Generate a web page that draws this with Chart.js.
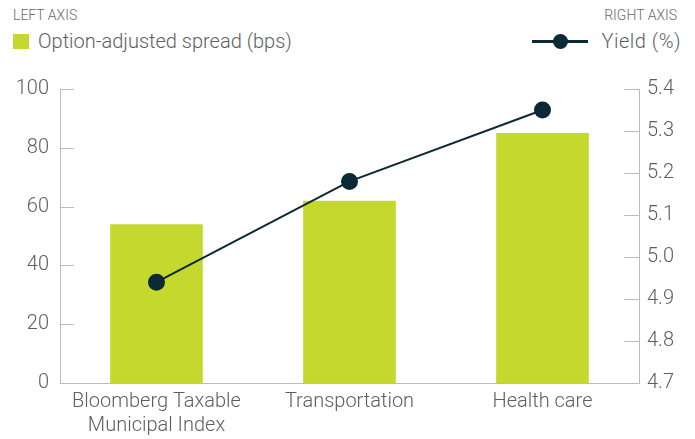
<!DOCTYPE html>
<html>
<head>
<meta charset="utf-8">
<script src="https://cdn.jsdelivr.net/npm/chart.js@4"></script>
<style>
  html, body { margin: 0; padding: 0; background: #fff; }
  body { width: 695px; height: 439px; position: relative; overflow: hidden;
         font-family: Roboto, "Liberation Sans", sans-serif; color: #666; }
  #wrap { position: absolute; left: 0; top: 0; width: 695px; height: 439px; }
  .small { position: absolute; font-size: 14px; font-weight: 300; color: #6a6a6a; white-space: nowrap; }
  .leg { position: absolute; font-size: 20px; font-weight: 300; color: #5e5e5e; white-space: nowrap; }
  .sq { position: absolute; left: 13px; top: 34px; width: 16px; height: 15px; background: #c5d82e; }
  .ln { position: absolute; left: 532px; top: 40px; width: 56px; height: 3px; background: #0b2a35; }
  .dot { position: absolute; left: 553px; top: 34px; width: 15px; height: 15px; border-radius: 50%; background: #0b2a35; }
</style>
</head>
<body>
<div class="small" style="left:13px; top:7px;">LEFT AXIS</div>
<div class="sq"></div>
<div class="leg" style="left:38px; top:29px;">Option-adjusted spread (bps)</div>
<div class="small" style="right:18px; top:7px;">RIGHT AXIS</div>
<div class="ln"></div><div class="dot"></div>
<div class="leg" style="right:14px; top:29px; letter-spacing:0.5px;">Yield (%)</div>
<div id="wrap"><canvas id="chart" width="695" height="439"></canvas></div>
<script>
const categories = [['Bloomberg Taxable', 'Municipal Index'], 'Transportation', 'Health care'];
const spreadBps = [54, 62, 85];
const yieldPct = [4.94, 5.18, 5.35];
const leftTicks = [0, 20, 40, 60, 80, 100];
const rightTicks = [4.7, 4.8, 4.9, 5.0, 5.1, 5.2, 5.3, 5.4];

const axisGray = '#bbbbbb';
const textGray = '#5e5e5e';
const fontFam = 'Roboto, "Liberation Sans", sans-serif';
const tickFont = { family: fontFam, size: 20, weight: '300' };

// small tick stubs pointing into the plot area
const innerTicks = {
  id: 'innerTicks',
  afterDatasetsDraw(chart) {
    const ctx = chart.ctx;
    ctx.save();
    ctx.strokeStyle = axisGray;
    ctx.lineWidth = 1;
    const yl = chart.scales.y, yr = chart.scales.y1;
    leftTicks.forEach(v => {
      if (v === 0) return;
      const p = Math.round(yl.getPixelForValue(v)) + 0.5;
      ctx.beginPath(); ctx.moveTo(yl.right, p); ctx.lineTo(yl.right + 14, p); ctx.stroke();
    });
    rightTicks.forEach(v => {
      if (v === 4.7) return;
      const p = Math.round(yr.getPixelForValue(v)) + 0.5;
      ctx.beginPath(); ctx.moveTo(yr.left - 15, p); ctx.lineTo(yr.left, p); ctx.stroke();
    });
    ctx.restore();
  }
};

new Chart(document.getElementById('chart').getContext('2d'), {
  data: {
    labels: categories,
    datasets: [
      {
        type: 'line',
        label: 'Yield (%)',
        data: yieldPct,
        yAxisID: 'y1',
        borderColor: '#0b2a35',
        backgroundColor: '#0b2a35',
        borderWidth: 2,
        pointRadius: 7.5,
        pointHoverRadius: 7.5,
        tension: 0,
        order: 0
      },
      {
        type: 'bar',
        label: 'Option-adjusted spread (bps)',
        data: spreadBps,
        yAxisID: 'y',
        backgroundColor: '#c5d82e',
        categoryPercentage: 1,
        barPercentage: 0.48,
        order: 1
      }
    ]
  },
  options: {
    responsive: false,
    animation: false,
    layout: { padding: { top: 89, left: 0, right: 0, bottom: 0 } },
    plugins: { legend: { display: false }, tooltip: { enabled: false } },
    scales: {
      x: {
        grid: { display: false, drawTicks: false },
        border: { display: true, color: axisGray, width: 1 },
        ticks: { color: textGray, font: tickFont, padding: 7, maxRotation: 0, autoSkip: false },
        afterFit(s) { s.height = 56; }
      },
      y: {
        position: 'left',
        min: 0, max: 100,
        afterBuildTicks(s) { s.ticks = leftTicks.map(v => ({ value: v })); },
        grid: { display: false, drawTicks: false },
        border: { display: true, color: axisGray, width: 1 },
        ticks: { color: textGray, font: tickFont, padding: 11 },
        afterFit(s) { s.width = 60; }
      },
      y1: {
        position: 'right',
        min: 4.7, max: 5.4,
        afterBuildTicks(s) { s.ticks = rightTicks.map(v => ({ value: v })); },
        grid: { display: false, drawTicks: false },
        border: { display: true, color: axisGray, width: 1 },
        ticks: { color: textGray, font: tickFont, padding: 8,
                 callback: v => Number(v).toFixed(1) },
        afterFit(s) { s.width = 56; }
      }
    }
  },
  plugins: [innerTicks]
});
</script>
</body>
</html>
